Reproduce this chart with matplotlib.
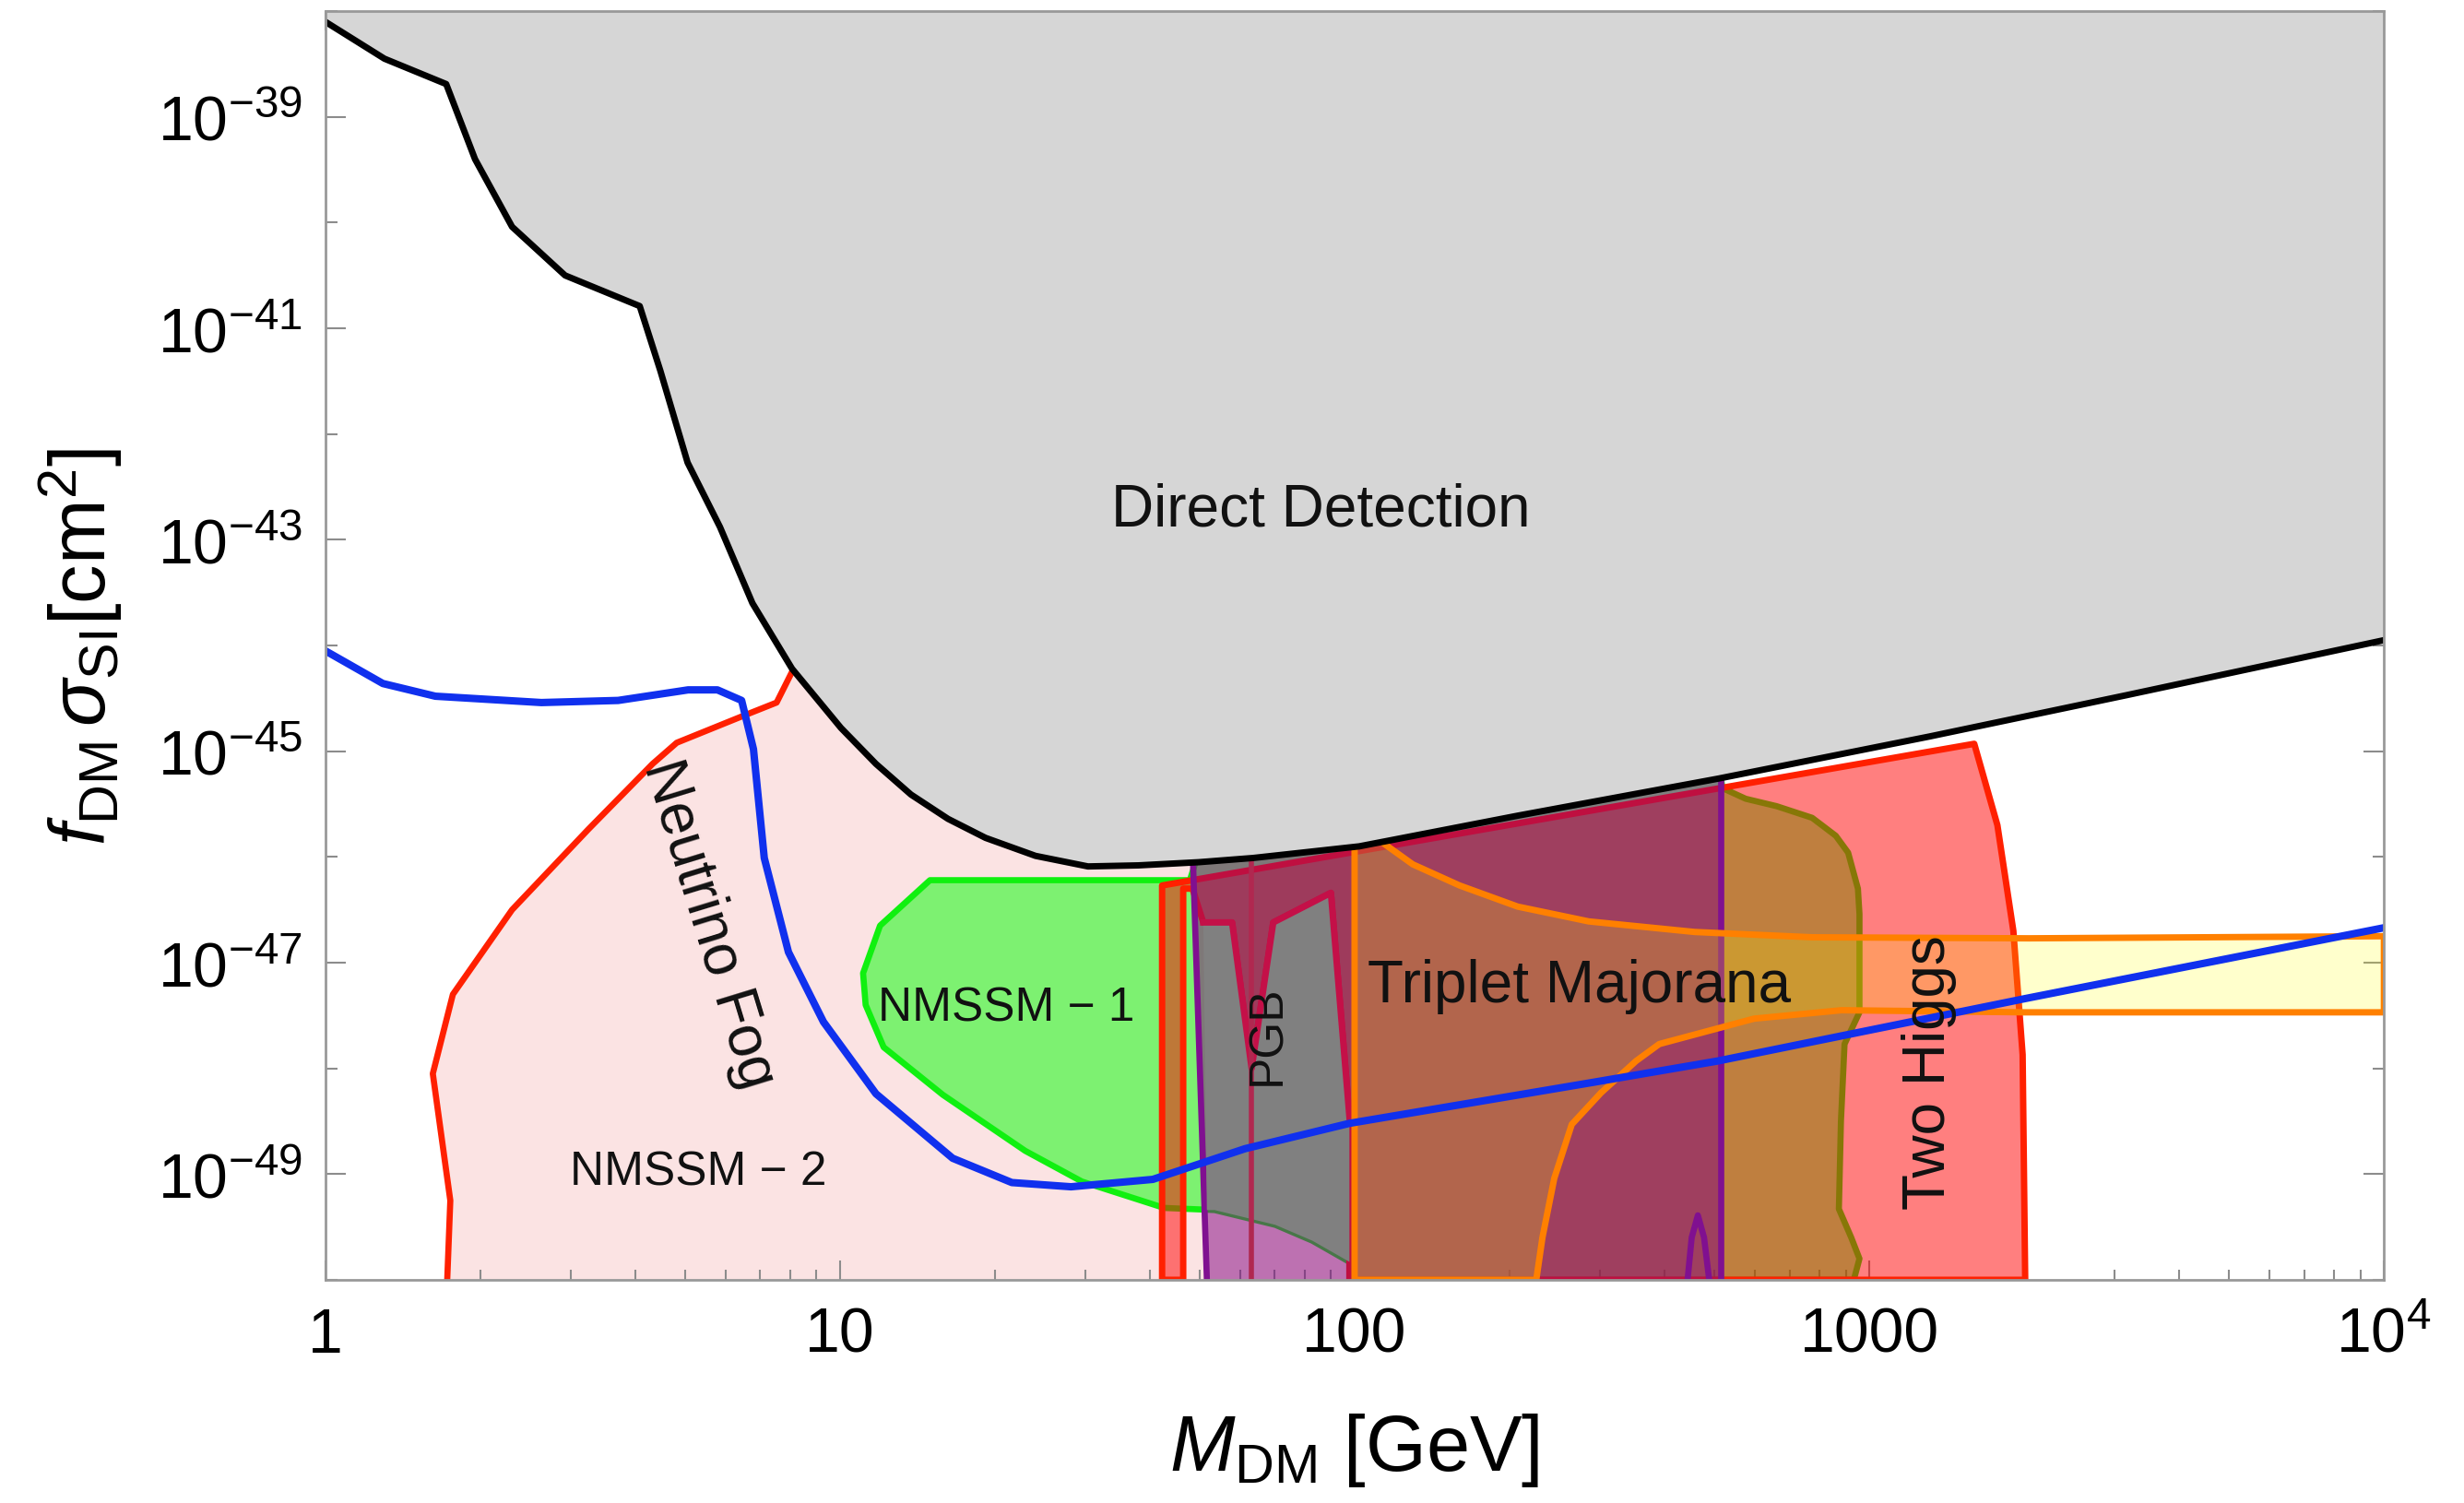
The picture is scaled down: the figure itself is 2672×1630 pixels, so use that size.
import numpy as np
import matplotlib
matplotlib.use("Agg")
import matplotlib.pyplot as plt
from matplotlib.ticker import FixedLocator, FixedFormatter, LogLocator, NullFormatter

plt.rcParams['font.family'] = ['Liberation Sans', 'DejaVu Sans']
plt.rcParams['mathtext.fontset'] = 'custom'
plt.rcParams['mathtext.rm'] = 'Liberation Sans'
plt.rcParams['mathtext.it'] = 'Liberation Sans:italic'
plt.rcParams['mathtext.bf'] = 'Liberation Sans:bold'

# all values are log10(M_DM / GeV) and log10(sigma / cm^2)

# direct detection limit (black line, grey above)
dd_lm = [0.0, 0.115, 0.235, 0.291, 0.363, 0.466, 0.611, 0.651, 0.704, 0.767, 0.83, 0.907,
         1.002, 1.07, 1.138, 1.21, 1.283, 1.38, 1.482, 1.58, 1.697, 1.803, 2.009, 2.317,
         2.706, 3.118, 3.5, 4.0]
dd_ls = [-38.10, -38.45, -38.69, -39.40, -40.04, -40.50, -40.79, -41.40, -42.27, -42.88, -43.6, -44.22,
         -44.78, -45.12, -45.41, -45.64, -45.82, -45.99, -46.09, -46.08, -46.05, -46.01, -45.90, -45.61,
         -45.26, -44.86, -44.47, -43.95]

# neutrino fog (blue)
nf_lm = [0.0, 0.112, 0.214, 0.420, 0.569, 0.705, 0.762, 0.809, 0.832, 0.853, 0.900, 0.968,
         1.070, 1.219, 1.334, 1.449, 1.608, 1.787, 1.99, 2.466, 2.706, 3.303, 4.0]
nf_ls = [-44.05, -44.36, -44.48, -44.54, -44.52, -44.42, -44.42, -44.52, -44.98, -46.01, -46.90, -47.56,
         -48.24, -48.85, -49.08, -49.12, -49.05, -48.76, -48.52, -48.13, -47.93, -47.34, -46.67]

# NMSSM-2 left boundary (red line, pink region to its right)
n2_lm = [0.237, 0.243, 0.209, 0.248, 0.363, 0.511, 0.636, 0.683, 0.815, 0.877, 0.911]
n2_ls = [-50.0, -49.25, -48.05, -47.30, -46.50, -45.74, -45.12, -44.92, -44.66, -44.54, -44.21]

# NMSSM-1 (green)
n1_lm = [1.175, 1.68, 1.72, 2.70, 2.715, 2.76, 2.82, 2.889, 2.935, 2.959, 2.978, 2.981, 2.981,
         2.952, 2.945, 2.941, 2.965, 2.981, 2.97, 2.0, 1.99, 1.918, 1.846, 1.728, 1.63, 1.47,
         1.36, 1.2, 1.085, 1.05, 1.045, 1.078]
n1_ls = [-46.22, -46.22, -45.6, -44.9, -45.35, -45.45, -45.52, -45.63, -45.80, -45.96, -46.3, -46.54, -47.47,
         -47.77, -48.5, -49.33, -49.6, -49.80, -50.0, -50.0, -49.83, -49.63, -49.48, -49.34, -49.32, -49.07,
         -48.78, -48.25, -47.8, -47.4, -47.1, -46.65]

# Two Higgs (red)
th_lm = [1.626, 1.626, 3.204, 3.249, 3.280, 3.298, 3.303, 1.99, 1.99, 1.954, 1.842, 1.80,
         1.762, 1.706, 1.685, 1.667, 1.667]
th_ls = [-50.0, -46.27, -44.93, -45.70, -46.70, -47.87, -50.0, -50.0, -48.46, -46.34, -46.62, -48.0,
         -46.62, -46.62, -46.30, -46.30, -50.0]

# PGB (grey)
pgb_lm = [1.706, 1.762, 1.80, 1.842, 1.954, 1.99, 1.99, 1.918, 1.846, 1.728, 1.713]
pgb_ls = [-46.62, -46.62, -48.0, -46.62, -46.34, -48.46, -49.83, -49.63, -49.48, -49.34, -49.34]
pgb_res_lm = [1.80, 1.80]
pgb_res_ls = [-46.0, -50.0]

# purple band
pu_lm = [1.683, 1.713, 2.711, 2.711]
pu_ls = [-45.6, -50.0, -50.0, -45.0]
pu_spike_lm = [2.647, 2.655, 2.667, 2.679, 2.689]
pu_spike_ls = [-50.0, -49.6, -49.39, -49.6, -50.0]

# Triplet Majorana (orange)
tm_lm = [2.0, 2.0, 2.05, 2.113, 2.204, 2.317, 2.455, 2.661, 2.889, 3.31, 4.0, 4.0, 3.303,
         2.946, 2.776, 2.592, 2.547, 2.479, 2.422, 2.388, 2.365, 2.353]
tm_ls = [-50.0, -45.85, -45.85, -46.07, -46.27, -46.47, -46.61, -46.71, -46.76, -46.77, -46.75, -47.47, -47.47,
         -47.45, -47.53, -47.77, -47.93, -48.23, -48.53, -49.04, -49.60, -50.0]

x_ticks = [1, 10, 100, 1000, 1e4]
x_ticklabels = ['1', '10', '100', '1000', r'$10^{4}$']
y_major_exp = [-49, -47, -45, -43, -41, -39]
y_minor_exp = [-50, -48, -46, -44, -42, -40, -38]


def lg(a):
    return np.power(10.0, np.asarray(a, dtype=float))


fig = plt.figure(figsize=(26.72, 16.31), dpi=100)
ax = fig.add_axes([0.132, 0.1484, 0.8355, 0.8436])
ax.set_xscale('log')
ax.set_yscale('log')

# NMSSM-2
ax.fill(lg(n2_lm + [1.0, 2.0, 2.0]), lg(n2_ls + [-43.0, -43.0, -50.0]),
        facecolor='#fbe3e3', edgecolor='none', zorder=1)
ax.plot(lg(n2_lm), lg(n2_ls), color='#ff2000', lw=4.8, solid_joinstyle='round', zorder=1.1)

# NMSSM-1
ax.fill(lg(n1_lm), lg(n1_ls), facecolor=(0, 1, 0, 0.5), edgecolor='#10f010', lw=4.8,
        joinstyle='round', zorder=2)

# Two Higgs
ax.fill(lg(th_lm), lg(th_ls), facecolor=(1, 0, 0, 0.5), edgecolor='#ff2000', lw=5,
        joinstyle='round', zorder=3)

# purple band
ax.fill(lg(pu_lm), lg(pu_ls), facecolor=(0.5, 0, 0.5, 0.5), edgecolor='none', zorder=4)
ax.plot(lg(pu_lm[:2]), lg(pu_ls[:2]), color='#801090', lw=4.8, zorder=4.1)
ax.plot(lg(pu_lm[2:]), lg(pu_ls[2:]), color='#801090', lw=4.8, zorder=4.1)
ax.plot(lg(pu_spike_lm), lg(pu_spike_ls), color='#801090', lw=4.8, solid_joinstyle='round', zorder=4.1)

# PGB
ax.fill(lg(pgb_lm), lg(pgb_ls), facecolor='#808080', edgecolor='none', zorder=5)
ax.plot(lg(pgb_lm[:6]), lg(pgb_ls[:6]), color='#c41048', lw=5, solid_joinstyle='round', zorder=5.1)
ax.plot(lg(pgb_res_lm), lg(pgb_res_ls), color='#b02850', lw=4, zorder=5.1)

# Triplet Majorana
ax.fill(lg(tm_lm), lg(tm_ls), facecolor=(1, 1, 0, 0.2), edgecolor='#ff8000', lw=5,
        joinstyle='round', zorder=6)

# direct detection
ax.fill(lg(dd_lm + [4.0, 0.0]), lg(dd_ls + [-37.0, -37.0]), facecolor='#d6d6d6',
        edgecolor='none', zorder=7)
ax.plot(lg(dd_lm), lg(dd_ls), color='black', lw=5, solid_joinstyle='round', zorder=7.1)

# neutrino fog
ax.plot(lg(nf_lm), lg(nf_ls), color='#1030ee', lw=5.8, solid_joinstyle='round', zorder=8)

txt = dict(color='#111111', ha='center', va='center', zorder=9)
ax.text(lg(1.934), lg(-42.71), 'Direct Detection', fontsize=46, **txt)
ax.text(lg(0.746), lg(-46.63), 'Neutrino Fog', fontsize=46, rotation=-73,
        rotation_mode='anchor', **txt)
ax.text(lg(1.323), lg(-47.43), 'NMSSM \u2212 1', fontsize=37, **txt)
ax.text(lg(0.725), lg(-48.98), 'NMSSM \u2212 2', fontsize=37, **txt)
ax.text(lg(1.832), lg(-47.68), 'PGB', fontsize=37, rotation=90, rotation_mode='anchor', **txt)
ax.text(lg(2.436), lg(-47.22), 'Triplet Majorana', fontsize=46, **txt)
ax.text(lg(3.117), lg(-48.03), 'Two Higgs', fontsize=46, rotation=90, rotation_mode='anchor', **txt)

ax.set_xlim(1, 1e4)
ax.set_ylim(1e-50, 1e-38)

ax.xaxis.set_major_locator(FixedLocator(x_ticks))
ax.xaxis.set_major_formatter(FixedFormatter(x_ticklabels))
ax.xaxis.set_minor_locator(LogLocator(base=10, subs=np.arange(2, 10)))
ax.xaxis.set_minor_formatter(NullFormatter())
ax.yaxis.set_major_locator(FixedLocator(lg(y_major_exp)))
ax.yaxis.set_major_formatter(FixedFormatter([r'$10^{%d}$' % e for e in y_major_exp]))
ax.yaxis.set_minor_locator(FixedLocator(lg(y_minor_exp)))
ax.yaxis.set_minor_formatter(NullFormatter())

ax.tick_params(which='both', direction='in', top=True, right=True, color='#8c8c8c', width=1.5,
               labelsize=49, labelcolor='black')
ax.tick_params(axis='x', which='major', length=15, pad=20)
ax.tick_params(axis='x', which='minor', length=8)
ax.tick_params(axis='y', which='major', length=16, pad=18)
ax.tick_params(axis='y', which='minor', length=9)
for s in ax.spines.values():
    s.set_color('#999999')
    s.set_linewidth(2)
    s.set_zorder(10)

ax.set_xlabel(r'$M_{\mathrm{DM}}$ [GeV]', fontsize=61, labelpad=36)
ax.set_ylabel(r'$f_{\mathrm{DM}}\,\sigma_{\mathrm{SI}}[\mathrm{cm}^{2}]$', fontsize=61, labelpad=26)

fig.savefig('out.png', dpi=100)
